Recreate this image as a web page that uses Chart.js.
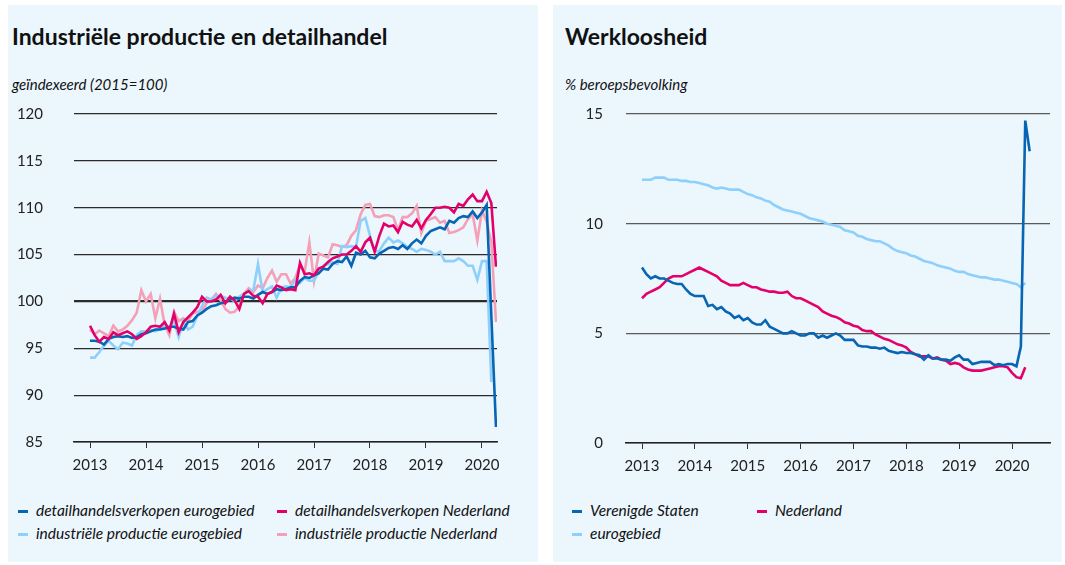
<!DOCTYPE html>
<html>
<head>
<meta charset="utf-8">
<script src="https://cdn.jsdelivr.net/npm/chart.js@4.4.1/dist/chart.umd.min.js"></script>
<style>
body { margin: 0; background: #fff; font-family: Lato, "Open Sans", sans-serif; color: #111; }
.panel { position: absolute; top: 5px; height: 557px; background: #ebf6fd; }
#p1 { left: 8px; width: 530px; }
#p2 { left: 553px; width: 509px; }
.title { position: absolute; left: 4px; top: 17px; font-weight: bold; font-size: 23px; }
#p2 .title, #p2 .sub { left: 12px; }
.sub { position: absolute; left: 4px; top: 70px; font-style: italic; font-size: 15px; }
.box { position: absolute; left: 0; }
.item { position: absolute; font-style: italic; font-size: 15.5px; white-space: nowrap; line-height: 20px; }
.item span { display: inline-block; width: 10px; height: 3px; margin-right: 8px; vertical-align: middle; position: relative; top: -1px; }
</style>
</head>
<body>
<div class="panel" id="p1">
  <div class="title">Industriële productie en detailhandel</div>
  <div class="sub">geïndexeerd (2015=100)</div>
  <div class="box" style="top:69px;width:530px;height:408px"><canvas id="c1"></canvas></div>
</div>
<div class="panel" id="p2">
  <div class="title">Werkloosheid</div>
  <div class="sub">% beroepsbevolking</div>
  <div class="box" style="top:77px;width:509px;height:398px"><canvas id="c2"></canvas></div>
</div>
<script>
// maandcijfers vanaf januari 2013
const startYear = 2013;
const years = [2013, 2014, 2015, 2016, 2017, 2018, 2019, 2020];

const retailEZ = [95.8, 95.8, 95.7, 95.4, 96.0, 96.2, 96.3, 96.2, 96.3, 96.1, 96.2, 96.5,
  96.6, 96.8, 97.0, 97.0, 97.1, 97.3, 97.3, 97.1, 97.0, 97.8, 97.9, 98.5,
  98.8, 99.2, 99.5, 99.6, 99.8, 99.9, 100.2, 100.4, 100.3, 100.5, 100.5, 100.3,
  100.7, 101.0, 100.8, 101.0, 101.3, 101.2, 101.3, 101.5, 101.5, 102.2, 102.6, 102.5,
  102.8, 103.0, 103.5, 103.4, 104.0, 104.3, 104.2, 104.8, 103.8, 105.2, 105.0, 105.4,
  104.7, 104.6, 105.1, 105.4, 105.7, 105.8, 105.6, 106.0, 105.6, 106.2, 106.6, 106.2,
  107.0, 107.5, 107.7, 107.9, 107.7, 108.6, 108.4, 108.9, 109.1, 109.0, 109.6, 108.9,
  109.5, 110.3, 98.5, 86.6];
const retailNL = [97.4, 96.4, 95.7, 96.2, 96.0, 96.7, 96.4, 96.6, 96.8, 96.5, 96.0, 96.3,
  96.7, 97.3, 97.4, 97.3, 97.8, 96.9, 98.7, 96.7, 97.8, 98.3, 98.8, 99.4,
  100.5, 100.0, 100.0, 100.2, 100.7, 99.8, 100.5, 100.1, 99.2, 100.8, 101.1, 100.6,
  100.5, 99.8, 100.8, 101.0, 101.7, 101.5, 101.2, 101.3, 101.2, 104.1, 102.9, 103.0,
  102.8, 103.5, 103.7, 104.2, 104.6, 104.8, 105.0, 105.0, 105.4, 105.9, 105.3, 106.3,
  106.8, 105.3, 107.0, 108.3, 108.0, 108.1, 107.4, 108.5, 108.2, 108.0, 108.7, 107.8,
  108.7, 109.3, 110.0, 110.0, 110.1, 110.0, 109.5, 110.4, 110.2, 110.9, 111.4, 110.7,
  110.7, 111.7, 110.5, 103.7];
const industryEZ = [94.0, 94.0, 94.6, 95.3, 95.8, 95.3, 94.9, 95.6, 95.5, 95.3, 96.4, 96.8,
  96.8, 97.0, 96.8, 97.1, 97.4, 97.2, 97.9, 96.2, 97.9, 97.0, 97.3, 98.5,
  99.5, 100.4, 100.2, 100.6, 100.6, 100.4, 100.3, 100.0, 100.5, 100.8, 101.2, 101.2,
  104.0, 101.0, 101.3, 101.6, 100.4, 101.5, 101.6, 101.5, 102.3, 102.0, 102.5, 102.2,
  102.2, 103.2, 103.8, 104.0, 104.2, 104.0, 105.9, 105.8, 105.9, 105.8, 108.6, 108.9,
  107.0, 105.3, 105.4, 106.2, 106.8, 106.3, 106.5, 106.2, 105.8, 105.6, 105.3, 105.6,
  105.5, 105.3, 105.0, 105.3, 104.3, 104.3, 104.3, 104.6, 104.3, 103.8, 103.8, 102.3,
  104.3, 104.3, 91.4];
const industryNL = [97.0, 96.5, 96.9, 96.6, 96.3, 97.4, 96.8, 97.0, 97.4, 98.0, 98.8, 101.2,
  100.0, 100.8, 98.2, 100.3, 97.5, 96.4, 98.9, 97.9, 98.2, 97.9, 98.7, 98.9,
  99.0, 99.8, 100.2, 100.8, 100.1, 99.2, 98.8, 98.9, 99.5, 100.8, 101.4, 101.0,
  101.7, 101.4, 102.5, 103.3, 102.1, 102.9, 102.9, 101.9, 102.5, 103.9, 103.2, 106.3,
  102.2, 105.1, 104.9, 104.7, 106.1, 106.0, 105.8, 106.0, 107.0, 107.6, 109.3, 110.3,
  110.4, 109.1, 109.0, 109.2, 109.2, 109.0, 107.6, 109.0, 109.0, 109.4, 110.2, 107.3,
  108.6, 108.8, 109.0, 108.4, 108.6, 107.3, 107.4, 107.6, 107.9, 108.8, 109.3, 106.5,
  109.7, 108.5, 106.3, 97.8];

const unempUS = [8.0, 7.7, 7.5, 7.6, 7.5, 7.5, 7.4, 7.3, 7.25, 7.25, 7.0, 6.8,
  6.7, 6.7, 6.7, 6.25, 6.3, 6.1, 6.2, 6.0, 5.9, 5.7, 5.8, 5.6,
  5.7, 5.5, 5.4, 5.4, 5.6, 5.3, 5.2, 5.1, 5.0, 5.0, 5.1, 5.0,
  4.9, 4.9, 5.0, 5.0, 4.8, 4.9, 4.8, 4.9, 5.0, 4.9, 4.7, 4.7,
  4.7, 4.45, 4.4, 4.4, 4.35, 4.35, 4.3, 4.35, 4.2, 4.15, 4.1, 4.15,
  4.1, 4.1, 4.05, 4.0, 3.8, 4.0, 3.85, 3.85, 3.8, 3.8, 3.75, 3.9,
  4.0, 3.8, 3.8, 3.6, 3.65, 3.7, 3.7, 3.7, 3.55, 3.6, 3.55, 3.6,
  3.6, 3.5, 4.4, 14.7, 13.3];
const unempNL = [6.6, 6.8, 6.9, 7.0, 7.1, 7.3, 7.5, 7.6, 7.6, 7.6, 7.7, 7.8,
  7.9, 8.0, 7.9, 7.8, 7.7, 7.6, 7.4, 7.3, 7.2, 7.2, 7.2, 7.3,
  7.2, 7.1, 7.1, 7.0, 6.95, 6.9, 6.9, 6.85, 6.85, 6.9, 6.7, 6.6,
  6.6, 6.5, 6.4, 6.3, 6.2, 6.0, 5.9, 5.8, 5.75, 5.65, 5.5, 5.45,
  5.35, 5.3, 5.15, 5.1, 5.1, 4.95, 4.85, 4.75, 4.7, 4.6, 4.5, 4.45,
  4.35, 4.15, 4.05, 3.95, 3.95, 3.95, 3.85, 3.9, 3.8, 3.75, 3.6, 3.65,
  3.6, 3.45, 3.35, 3.3, 3.3, 3.3, 3.35, 3.4, 3.45, 3.5, 3.5, 3.45,
  3.2, 3.0, 2.95, 3.45];
const unempEZ = [12.0, 12.0, 12.0, 12.1, 12.1, 12.1, 12.0, 12.0, 12.0, 11.95, 11.95, 11.9,
  11.9, 11.85, 11.8, 11.75, 11.65, 11.6, 11.65, 11.6, 11.55, 11.55, 11.55, 11.45,
  11.35, 11.3, 11.2, 11.15, 11.05, 11.0, 10.85, 10.75, 10.65, 10.6, 10.55, 10.5,
  10.45, 10.35, 10.25, 10.2, 10.15, 10.1, 10.0, 9.95, 9.9, 9.85, 9.7, 9.65,
  9.6, 9.45, 9.4, 9.3, 9.25, 9.2, 9.2, 9.1, 9.0, 8.85, 8.75, 8.7,
  8.65, 8.55, 8.5, 8.4, 8.3, 8.25, 8.2, 8.1, 8.05, 8.0, 7.95, 7.85,
  7.8, 7.8, 7.7, 7.65, 7.6, 7.55, 7.55, 7.5, 7.45, 7.45, 7.4, 7.35,
  7.3, 7.25, 7.1, 7.3];

const DARK = '#0765b3', MAGENTA = '#e4006a', LIGHT = '#8ed0fb', PINK = '#f4a0b6';

function monthly(arr) {
  return arr.map(function (v, i) { return { x: startYear + i / 12, y: v }; });
}

function line(label, arr, color, order) {
  return { label: label, data: monthly(arr), borderColor: color, backgroundColor: color,
    borderWidth: 2.6, pointRadius: 0, tension: 0, order: order };
}

// de bovenkant van het plotvlak volgt uit de y-labels (halve labelhoogte + padding)
function makeChart(id, datasets, o) {
  return new Chart(document.getElementById(id), {
    type: 'line',
    data: { datasets: datasets },
    options: {
      responsive: true, maintainAspectRatio: false, animation: false,
      layout: { padding: { top: 0, right: o.right, left: 0, bottom: 0 } },
      plugins: { legend: { display: false }, tooltip: { enabled: false } },
      scales: {
        x: {
          type: 'linear', min: o.xMin, max: o.xMax,
          afterBuildTicks: function (s) { s.ticks = years.map(function (y) { return { value: y }; }); },
          afterFit: function (s) { s.height = o.xHeight; },
          border: { display: true, color: '#222', width: 1.5 },
          grid: { drawOnChartArea: false, drawTicks: true, tickLength: 6, color: '#333', lineWidth: 1 },
          ticks: { autoSkip: false, maxRotation: 0, padding: 8, color: '#222',
            font: { family: 'Lato', size: 15 }, callback: function (v) { return String(v); } }
        },
        y: {
          min: o.yMin, max: o.yMax,
          afterFit: function (s) { s.width = o.yWidth; },
          border: { display: false },
          grid: { drawTicks: false, color: o.gridColor,
            lineWidth: function (c) { return c.tick && c.tick.value === o.thick ? 2.2 : 1.2; } },
          ticks: { stepSize: 5, padding: o.yPad, color: '#222', font: { family: 'Lato', size: 15 } }
        }
      }
    }
  });
}

makeChart('c1', [
  line('detailhandelsverkopen eurogebied', retailEZ, DARK, 2),
  line('detailhandelsverkopen Nederland', retailNL, MAGENTA, 1),
  line('industriële productie eurogebied', industryEZ, LIGHT, 3),
  line('industriële productie Nederland', industryNL, PINK, 4)
], { xMin: 2012.714, xMax: 2020.268, yMin: 85, yMax: 120, right: 41, xHeight: 38, yWidth: 66, yPad: 31, gridColor: '#2b2b2b', thick: 100 });

makeChart('c2', [
  line('Verenigde Staten', unempUS, DARK, 1),
  line('Nederland', unempNL, MAGENTA, 2),
  line('eurogebied', unempEZ, LIGHT, 3)
], { xMin: 2012.697, xMax: 2020.718, yMin: 0, yMax: 15, right: 12, xHeight: 37, yWidth: 73, yPad: 23, gridColor: '#5a5a5a', thick: -1 });

// legenda
const legend1 = [['detailhandelsverkopen eurogebied', DARK], ['detailhandelsverkopen Nederland', MAGENTA],
  ['industriële productie eurogebied', LIGHT], ['industriële productie Nederland', PINK]];
const legend2 = [['Verenigde Staten', DARK], ['Nederland', MAGENTA], ['eurogebied', LIGHT]];
function addLegend(panelId, items, cols) {
  const p = document.getElementById(panelId);
  items.forEach(function (it, i) {
    const d = document.createElement('div');
    d.className = 'item';
    d.style.left = cols[i % 2] + 'px';
    d.style.top = (495 + Math.floor(i / 2) * 23) + 'px';
    d.innerHTML = '<span style="background:' + it[1] + '"></span>' + it[0];
    p.appendChild(d);
  });
}
addLegend('p1', legend1, [10, 269]);
addLegend('p2', legend2, [19, 204]);
</script>
</body>
</html>
